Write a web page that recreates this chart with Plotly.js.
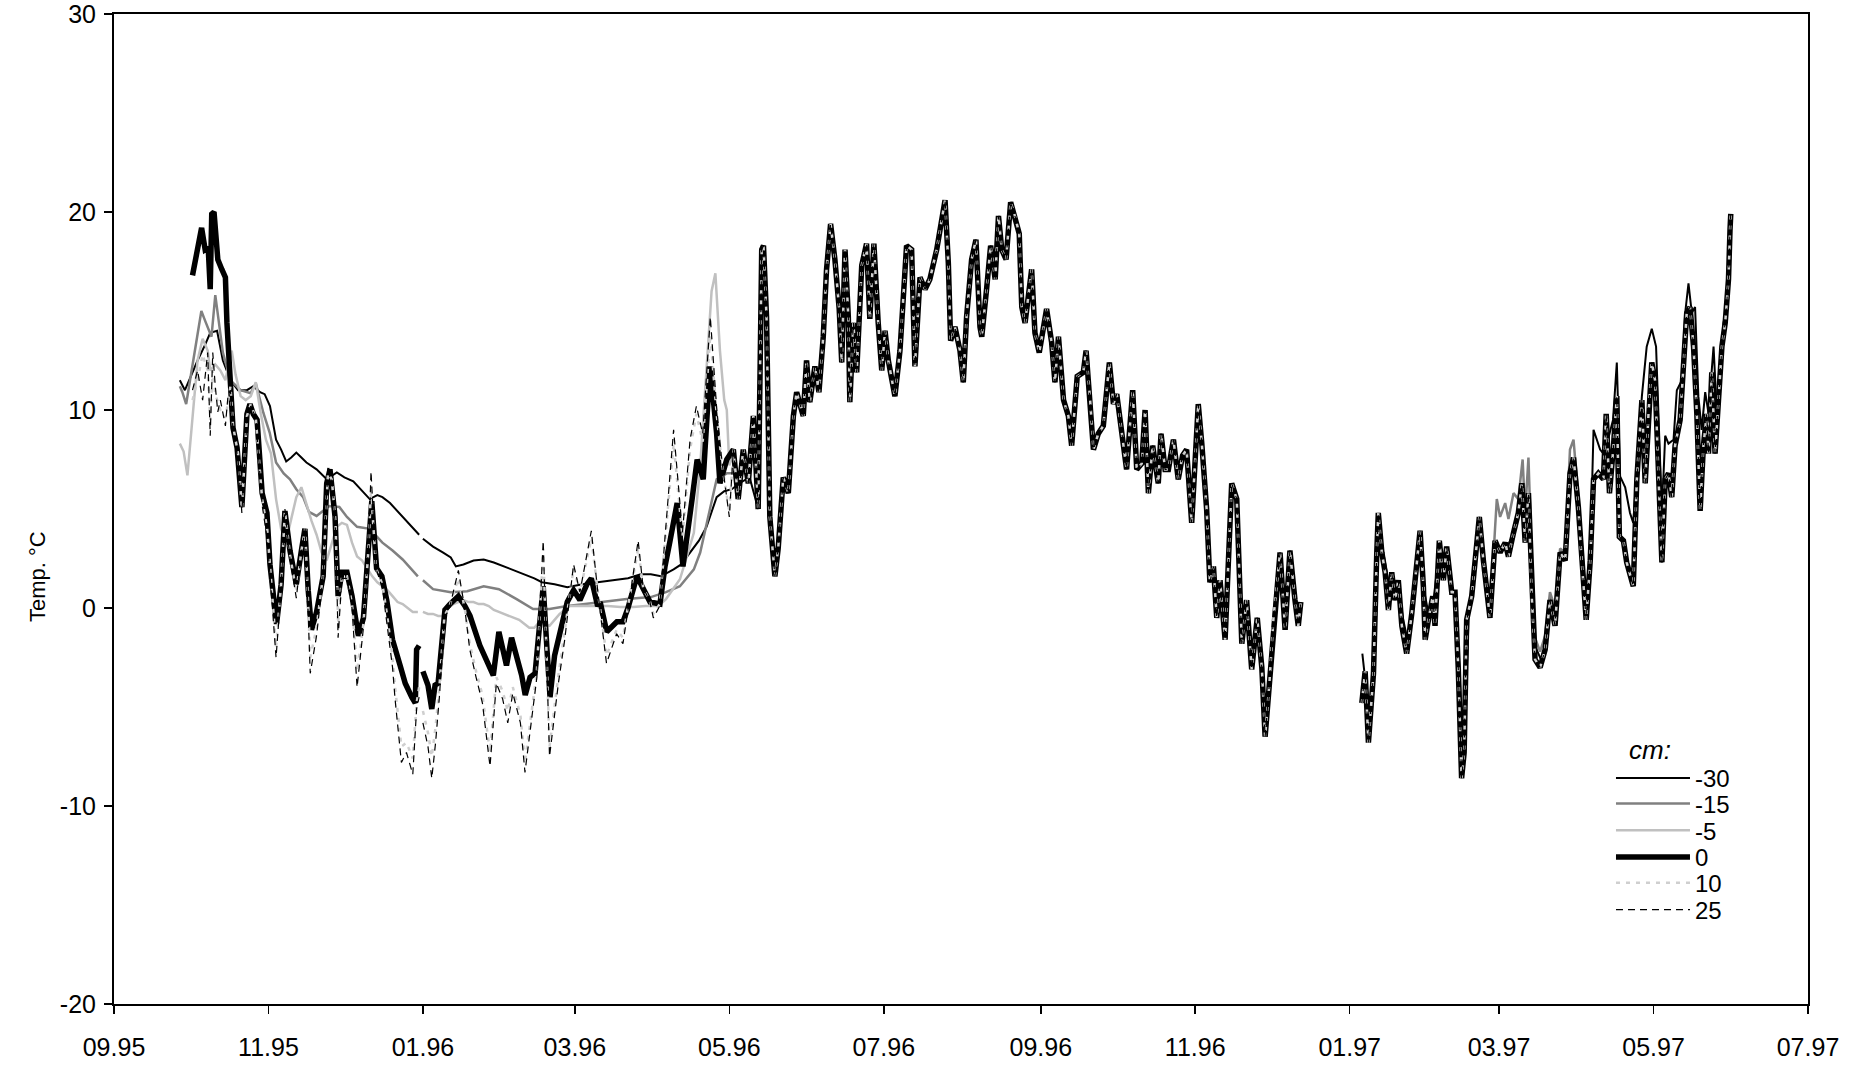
<!DOCTYPE html>
<html>
<head>
<meta charset="utf-8">
<script src="https://cdn.plot.ly/plotly-3.0.1.min.js"></script>
<style>html,body{margin:0;padding:0;background:#fff}#chart{width:1863px;height:1065px}</style>
</head>
<body>
<div id="chart"></div>
<script>
// Day numbers are days since 1995-09-01; values are temperatures in °C.
const BASE_DATE = '1995-09-01';

const yTickVals = [-20, -10, 0, 10, 20, 30];
const yTickText = ['-20', '-10', '0', '10', '20', '30'];
const seriesNames = ['-30', '-15', '-5', '0', '10', '25'];
const yTitle = 'Temp. °C';
const legendTitle = 'cm:';

// ---- winter 1995/96, each depth separately ----
const m30Winter = [[26,11.5],[28,11.0],[30,11.6],[33,12.5],[36,13.3],[38,13.9],[40.7,14.0],[43,12.5],[46,11.5],[49,11.0],[52.5,11.0],[55,11.2],[57.7,10.9],[59.5,10.8],[61.6,10.2],[64,8.5],[66,8.0],[68,7.4],[70,7.6],[72,7.85],[74,7.6],[76,7.35],[80,7.0],[84,6.5],[88,6.85],[91,6.6],[94.5,6.4],[98,5.9],[101,5.5],[104,5.7],[106,5.6],[109,5.3],[114,4.6],[118,4.0],[120.5,3.7],[121,null],[122,3.5],[126,3.1],[130,2.8],[133,2.55],[135,2.1],[138,2.2],[142,2.4],[146,2.45],[150,2.3],[154,2.1],[158,1.9],[162,1.7],[166,1.5],[169,1.3],[174,1.2],[179,1.05],[185,1.2],[191,1.3],[197,1.4],[203,1.5],[208,1.7],[212,1.7],[216,1.6],[219,1.8],[221,1.95],[224,2.2],[227.5,2.8],[231,3.4],[234,4.1],[238,5.6],[241,5.9],[244,6.0],[247,6.3],[251,6.6]];

const m15Winter = [[26,11.2],[27,10.9],[28.5,10.3],[30,11.5],[32,13.0],[34.5,15.0],[36,14.5],[38.5,13.7],[40,15.8],[43,12.9],[46,11.5],[50,11.0],[54,10.85],[56,11.35],[59,9.85],[61.5,8.85],[64,7.35],[67,6.8],[69.5,6.5],[72,6.0],[74.7,5.6],[77,4.85],[80,4.65],[85,5.15],[89,5.1],[92,4.6],[96,4.1],[101,4.0],[106,3.3],[110,2.9],[114,2.45],[120,1.6],[121,null],[122,1.4],[126,0.95],[133,0.8],[139.5,0.85],[146,1.1],[152,0.95],[159,0.45],[165.5,-0.05],[172,-0.05],[179,0.1],[186,0.2],[192,0.3],[202.5,0.45],[212,0.55],[218,0.8],[223.5,1.1],[229,1.95],[231.5,2.8],[235,4.8],[238,6.5],[242,6.8],[246,6.8],[250,6.8]];

const m5Winter = [[26,8.3],[27.5,7.9],[29,6.7],[31,9.8],[33,12.5],[35,13.6],[37,13.0],[38,12.0],[40,12.3],[42,12.0],[44,11.5],[46.5,13.0],[48,11.8],[50,10.7],[52,10.5],[54,10.7],[56,11.4],[58,9.8],[60,8.5],[62,7.8],[64,5.5],[66,4.0],[68,3.4],[70,4.5],[72,5.6],[74,6.1],[76,5.2],[78,4.4],[80,3.7],[82,2.8],[84,2.4],[86,3.3],[88,4.1],[90,4.3],[92,4.2],[94,3.3],[96,2.6],[98,2.4],[100,2.0],[102,1.6],[104,1.3],[106,1.1],[108,0.9],[110,0.6],[112,0.3],[114,0.2],[116,0.0],[118,-0.2],[120,-0.2],[121,null],[122,-0.2],[124,-0.3],[126,-0.3],[128,-0.4],[130,-0.4],[132,0.0],[134,0.2],[136,0.3],[138,0.4],[140,0.3],[142,0.3],[144,0.2],[146,0.2],[148,0.1],[150,-0.1],[152,-0.2],[154,-0.3],[156,-0.4],[158,-0.5],[160,-0.6],[162,-0.8],[164,-1.0],[166,-1.0],[168,-0.7],[170,-0.8],[172,-0.9],[174,-0.6],[176,-0.3],[178,-0.1],[180,0.1],[185,0.1],[190,0.1],[195,0.1],[200,0.05],[205,0.05],[210,0.1],[215,0.1],[218,0.45],[221,1.0],[223.5,1.45],[226,2.5],[229,3.8],[231.5,7.15],[234,12.2],[236,16.0],[237.5,16.9],[239.3,13.0],[241,10.5],[242,10.0],[243,7.2]];

const s0Winter = [[31,16.8],[32.7,17.9],[34.6,19.2],[36,18.1],[37.2,18.2],[38,16.1],[38.6,19.9],[39.5,20.0],[41,17.6],[42.6,17.1],[44,16.7],[44.6,14.4],[46,11.5],[47,9.1],[48.6,8.1],[50.5,5.1],[52.5,9.8],[53.7,10.3],[55,9.8],[56.5,9.5],[58.5,5.8],[60.4,4.8],[61.6,2.2],[64.2,-0.8],[66,1.2],[67.5,4.9],[69.5,2.9],[72,1.2],[74,2.9],[75.4,4.0],[76.7,0.9],[78,-1.1],[80,-0.2],[82.6,1.6],[84,6.3],[85.3,7.0],[87.3,4.6],[88.5,0.6],[90,1.8],[92,1.8],[94,0.6],[96.5,-1.4],[98.5,-0.5],[100.5,2.9],[101.8,5.4],[103.7,2.0],[105.8,1.6],[107.7,0.4],[110,-1.6],[113,-2.9],[115,-3.8],[117.6,-4.5],[119,-4.8],[119.5,-2.1],[120.5,-1.9],[121,null],[122,-3.2],[124,-3.9],[125.5,-5.1],[126.8,-3.9],[128,-3.8],[129.5,-1.4],[130.7,-0.1],[132.7,0.2],[136,0.6],[138.6,0.1],[140.6,-0.4],[144.5,-1.9],[147.2,-2.7],[149.8,-3.4],[152,-1.2],[153.6,-2.1],[155,-2.9],[157,-1.5],[159,-2.4],[161,-3.4],[162.4,-4.4],[164.3,-3.5],[166.3,-3.3],[168.2,-0.4],[169.5,1.1],[171,-2.1],[172.2,-4.5],[174,-2.4],[176,-1.3],[177.5,-0.4],[179,0.3],[181.5,0.9],[184,0.4],[186.8,1.2],[188.5,1.5],[191,0.1],[192,0.3],[194.6,-1.2],[198.6,-0.7],[201,-0.7],[203,0.0],[206.5,1.6],[209,0.9],[211.7,0.3],[215.6,0.2],[217.6,2.1],[219.6,3.4],[222.4,5.3],[224.7,2.1],[226.2,3.4],[228.3,5.5],[230.3,7.5],[232.7,6.5],[235.4,12.2],[238,8.8],[239.3,6.3],[242,7.5]];

const p10Winter = [[31,10.5],[33,11.5],[35,12.8],[37,12.0],[38,9.5],[39,12.0],[40,10.8],[42,10.0],[44,9.6],[46,11.2],[47,9.2],[49,7.8],[50.5,5.0],[52.5,9.7],[54,10.3],[56,9.6],[58.5,5.5],[60.5,4.0],[62,1.5],[64,-2.0],[66,1.2],[67.5,4.9],[69.5,2.7],[72,0.8],[74,2.9],[75.5,4.0],[77.5,-2.5],[80,-1.0],[82.5,1.6],[84.5,6.8],[86,6.5],[87.5,4.3],[88.5,-0.8],[90,1.6],[92,1.6],[94,0.2],[96,-3.2],[98.5,-0.8],[100.5,3.0],[101.5,6.0],[103.5,2.0],[106,1.2],[108,-0.5],[110,-2.5],[111,-4.0],[113.5,-7.0],[115.5,-6.8],[118,-7.6],[119.5,-4.8],[120.5,-4.0],[121,null],[122,-5.2],[124,-6.3],[125.5,-7.5],[127,-6.0],[128.5,-4.0],[130.5,-0.4],[132.5,0.1],[136,1.5],[138.5,0.0],[140.5,-1.8],[143,-3.2],[145.5,-4.4],[148.5,-7.3],[151,-3.5],[153.5,-4.2],[155.5,-5.2],[157.5,-4.0],[160.5,-5.4],[162.3,-7.8],[164.3,-5.8],[167,-3.2],[169.5,3.0],[172,-7.0],[175.5,-3.4],[178,-1.2],[181.5,2.0],[184,0.8],[188.5,3.5],[191,0.9],[194.5,-2.4],[198.5,-1.1],[201,-1.5],[203,0.1],[207,3.0],[209,1.0],[211.5,0.4],[213,-0.3],[215.5,0.2],[217.5,3.2],[221,8.3],[224.5,3.6],[227.5,8.0],[230,9.8],[232.5,8.4],[235.5,13.8],[238,9.8],[240,7.4],[243,4.8]];

const p25Winter = [[31,11.0],[33,12.0],[35,10.5],[37,12.9],[38,8.7],[39,12.9],[40,11.2],[41,9.9],[42,10.5],[44,9.2],[45,10.7],[46,11.0],[47,9.0],[49,7.5],[50.5,4.8],[52.5,9.5],[54,10.2],[56,9.6],[58.5,5.2],[60.5,3.5],[62,1.0],[64,-2.5],[66,1.0],[67.5,5.0],[69.5,2.5],[72,0.5],[74,2.8],[75.5,4.0],[77.5,-3.3],[80,-1.4],[82.5,1.5],[84.5,7.2],[86,6.5],[87.5,4.0],[88.5,-1.5],[90,1.5],[92,1.5],[94,0.0],[96,-4.0],[98.5,-1.0],[100.5,3.0],[101.5,6.9],[103.5,2.0],[106,1.0],[108,-1.0],[110,-3.0],[111,-4.6],[113.5,-7.8],[115.5,-7.3],[118,-8.4],[119.5,-5.1],[120.5,-4.5],[121,null],[122,-5.8],[124,-7.0],[125.5,-8.6],[127,-6.8],[128.5,-4.5],[130.5,-0.5],[132.5,0.0],[136,1.9],[138.5,0.0],[140.5,-2.1],[143,-3.5],[145.5,-4.8],[148.5,-8.0],[151,-3.8],[153.5,-4.6],[155.5,-5.8],[157.5,-4.3],[160.5,-5.8],[162.3,-8.3],[164.3,-6.3],[167,-3.5],[169.5,3.4],[172,-7.5],[175.5,-3.8],[178,-1.6],[181.5,2.2],[184,0.8],[188.5,3.9],[191,0.9],[194.5,-2.8],[198.5,-1.3],[201,-1.8],[203,0.0],[207,3.4],[209,1.0],[211.5,0.4],[213,-0.5],[215.5,0.1],[217.5,3.4],[221,9.0],[224.5,3.8],[227.5,8.5],[230,10.2],[232.5,8.8],[235.5,14.7],[238,10.1],[240,7.5],[243,4.6]];

// ---- May–Dec 1996: all depths nearly identical ----
const common96 = [[244.6,8.0],[246.5,5.5],[248.5,8.0],[250.5,6.3],[252.5,9.7],[254.4,5.0],[255.8,18.1],[256.5,18.3],[257.7,14.7],[259,4.6],[261,1.6],[262.3,3.0],[264.3,6.6],[266.3,5.8],[268.3,9.7],[269.6,10.9],[272.2,9.7],[273.5,12.5],[274.8,10.4],[276.8,12.2],[278.4,10.9],[280.1,13.7],[281.4,17.1],[283,19.4],[284.7,17.6],[286.4,15.1],[287.4,12.4],[288.7,18.1],[290,14.7],[290.6,10.4],[292,14.4],[293.3,11.9],[295.3,17.3],[297.2,18.4],[298.5,14.6],[300.1,18.4],[301.8,14.4],[303.2,12.0],[304.5,14.0],[305.8,12.5],[308.4,10.7],[310.4,13.0],[313,18.3],[315,18.1],[316.3,12.2],[318.3,16.7],[320.3,16.1],[322.2,16.6],[324.9,18.1],[328.2,20.6],[329.5,17.4],[330.4,13.5],[332.1,14.2],[334.1,13.0],[335.4,11.4],[336.7,14.7],[338.7,17.6],[340.4,18.6],[342,14.2],[342.7,13.7],[344.6,16.1],[346.2,18.3],[348,16.6],[349.3,19.8],[350.6,18.1],[352.3,17.6],[354.1,20.5],[355.8,19.8],[357.5,18.9],[358.5,15.2],[359.8,14.4],[362.4,17.1],[363.7,13.9],[365.4,12.9],[368.3,15.1],[370.3,13.4],[371.6,11.4],[373,13.7],[375,10.5],[376.9,9.7],[378.2,8.2],[380.4,11.7],[382.8,11.9],[383.9,13.0],[385.5,10.5],[386.8,8.0],[388.7,8.8],[390.7,9.2],[393.1,12.4],[394.7,10.3],[396,10.8],[398,8.8],[399.9,7.0],[402.3,11.0],[403.9,7.0],[405.9,7.3],[407.2,10.0],[408.5,5.8],[410.2,8.2],[412.4,6.3],[413.5,8.8],[415.1,7.0],[416.4,7.0],[418.4,8.5],[420.3,6.5],[422,7.7],[423.6,8.0],[425.6,4.3],[426.9,7.2],[428.2,10.3],[429.6,8.3],[431.5,5.0],[432.8,1.3],[434.2,2.1],[435.5,-0.5],[436.8,1.4],[438.8,-1.6],[441.4,6.3],[443.4,5.5],[445.4,-1.8],[447.3,0.4],[449.3,-3.1],[451.5,-0.5],[453.3,-3.0],[454.6,-6.5],[456.3,-3.8],[457.9,-0.5],[460.5,2.8],[462.5,-1.1],[464.4,2.9],[466.4,0.4],[467.7,-0.9],[468.7,0.3]];

// data gap (mid-December 1996 to early January 1997)
const gapMark = [[480,null]];

// ---- 1997 ----
const common97a = [[492.8,-4.8],[494.1,-3.2],[495.4,-6.8],[497.4,-3.3],[498.7,2.8],[499.3,4.8],[500.7,2.8],[502,1.8],[503.3,-0.1],[504.6,1.8],[505.9,0.4],[507.2,1.4],[508.6,-0.9],[510.5,-2.3],[512.5,-0.3],[514.5,2.3],[515.8,3.9],[517.1,1.1],[517.8,-1.6],[519.1,-0.6],[520.8,0.6],[521.7,-0.9],[523.4,3.4],[525,1.4],[526.3,3.1],[528.3,0.8],[529.6,0.8],[530.9,-3.1],[532.2,-8.6],[533.2,-7.3],[534.2,-0.6],[536.2,0.6],[537.5,2.3],[539.2,4.6],[540.8,2.4],[543.4,-0.5]];
const common97b = [[545.4,3.4],[547.4,2.8],[549.4,3.3],[550.7,2.6],[552.7,3.8],[554.6,4.8],[556,6.3],[557.3,3.3],[558.6,5.8],[559.9,0.6],[561.2,-2.6],[563.2,-3.0],[565.2,-2.1],[567.1,0.4],[569.1,-0.9],[571.1,2.8],[573.1,2.4],[575,6.8],[576.4,7.6],[578.3,5.1],[579.6,2.4]];
const common97c = [[581.4,-0.6],[583,2.4],[584.3,6.5],[586.2,6.8],[588.2,6.5],[589.3,9.8],[590.6,5.8],[592.2,8.2],[593.5,10.7],[594.5,3.6],[596.1,3.4],[597.4,2.3],[600,1.1],[601.4,6.5],[603.4,10.5],[604.7,6.3],[606,9.8],[607.3,12.4],[608.6,11.5],[610,6.5],[611.3,2.3],[612.6,6.5],[613.9,6.8],[615.2,5.6],[616.5,8.2],[618.5,9.5],[619.8,12.4],[621.1,14.9],[622.4,15.2],[623.8,13.2],[625.1,9.8],[626.4,4.9],[627.7,8.2],[629,9.8],[629.7,7.8],[631,11.9],[632.3,7.8],[633.6,10.7],[635,13.2],[636.3,14.4],[637.6,16.6],[638.2,19.1],[638.5,19.9]];
const m15Spring97 = [[545.4,4.0],[546.1,5.5],[547.4,4.6],[549.4,5.3],[550.7,4.5],[552.7,5.8],[554.6,5.5],[556.3,7.5],[557.3,4.8],[558.6,7.6],[559.9,2.5],[561.2,-1.5],[563.2,-2.2],[565.2,-1.4],[567.1,0.8],[569.1,0.0],[571.1,3.0],[573.1,2.8],[575,8.0],[576.4,8.5],[578.3,5.6],[579.6,3.0]];
const m30Year97 = [[493,-2.3],[494.5,-4.0],[496,-5.8],[497.5,-3.0],[499,2.5],[500,4.0],[501,3.0],[502.5,1.9],[504,0.8],[505.5,1.2],[507,1.3],[509,-0.5],[511,-1.7],[513,0.2],[515,2.8],[516,3.6],[517.5,0.8],[519,-0.2],[521,0.3],[523.5,3.0],[525,1.8],[526.5,2.8],[528.5,1.0],[530,0.5],[531.5,-3.5],[532.5,-7.8],[533.5,-6.0],[535,-0.3],[537.5,2.2],[539.5,4.3],[541,2.6],[543.5,0.0],[545.5,3.2],[547.5,2.9],[550,3.0],[553,3.9],[555,4.8],[556.5,5.8],[558.5,5.5],[560,1.2],[561.5,-2.0],[563.5,-2.6],[565.5,-1.8],[567,0.5],[569,-0.4],[571,2.7],[573,2.6],[575,6.5],[576.5,7.4],[578.5,5.3],[580,2.8],[581.5,0.0],[583,2.6],[584.3,9.0],[586.9,8.0],[588.2,7.8],[590,8.5],[592,9.5],[593.5,12.4],[594.8,6.65],[596.8,6.1],[598.7,4.8],[600,4.3],[602,8.2],[603.4,10.7],[605.3,13.2],[607.3,14.1],[609,13.2],[610,9.85],[611.3,4.8],[612.6,8.7],[613.9,8.3],[615.9,8.5],[617.2,11.0],[619.2,11.5],[620.5,14.9],[621.8,16.4],[623.1,14.9],[624.4,15.2],[625.7,10.7],[627,9.0],[628.4,10.9],[629.7,9.85],[631.7,13.2],[633,9.85],[634.3,11.5],[635.6,14.4],[636.6,15.0],[637.6,16.6],[638.2,19.1],[638.5,19.9]];

// ---- assemble ----
const baseMs = Date.parse(BASE_DATE + 'T00:00:00Z');
function toXY(pairs) {
  return {
    x: pairs.map(p => new Date(baseMs + p[0] * 86400000).toISOString().slice(0, 19).replace('T', ' ')),
    y: pairs.map(p => p[1])
  };
}
const from = (arr, d) => arr.filter(p => p[0] >= d);

const seriesPairs = [
  m30Winter.concat(from(common96, 254), gapMark, m30Year97),
  m15Winter.concat(from(common96, 252), gapMark, common97a, m15Spring97, common97c),
  m5Winter.concat(common96, gapMark, common97a, common97b, common97c),
  s0Winter.concat(common96, gapMark, common97a, common97b, common97c),
  p10Winter.concat(common96, gapMark, common97a, common97b, common97c),
  p25Winter.concat(common96, gapMark, common97a, common97b, common97c)
];

const styles = [
  {color: '#000000', width: 2},
  {color: '#808080', width: 2.5},
  {color: '#c0c0c0', width: 2.5},
  {color: '#000000', width: 5.5},
  {color: '#cfcfcf', width: 2.5, dash: '4px,6px'},
  {color: '#000000', width: 1.2, dash: '7px,5px'}
];

// one legend box per entry so the entries can sit as tightly as in the original
const legendIds = ['legend', 'legend2', 'legend3', 'legend4', 'legend5', 'legend6'];

const traces = seriesPairs.map((pairs, i) => {
  const xy = toXY(pairs);
  return {
    type: 'scatter', mode: 'lines', name: seriesNames[i],
    x: xy.x, y: xy.y, connectgaps: false,
    line: Object.assign({shape: 'linear'}, styles[i]),
    legend: legendIds[i],
    hoverinfo: 'x+y+name'
  };
});

const FONT = 'Arial, "Liberation Sans", sans-serif';
const layout = {
  width: 1863, height: 1065,
  margin: {l: 114, r: 55, t: 14, b: 61, pad: 0},
  paper_bgcolor: '#ffffff', plot_bgcolor: '#ffffff',
  font: {family: FONT, size: 25, color: '#000'},
  showlegend: true,
  xaxis: {
    type: 'date', range: ['1995-09-01', '1997-07-01'],
    tick0: '1995-09-01', dtick: 'M2', tickformat: '%m.%y',
    ticks: 'outside', ticklen: 8, tickwidth: 1.5, tickcolor: '#000',
    showline: true, linecolor: '#000', linewidth: 2, mirror: true,
    showgrid: false, zeroline: false,
    tickfont: {family: FONT, size: 25, color: '#000'},
    ticklabelstandoff: 12, ticklabeloverflow: 'allow'
  },
  yaxis: {
    range: [-20, 30], tickmode: 'array', tickvals: yTickVals, ticktext: yTickText,
    ticks: 'outside', ticklen: 8, tickwidth: 1.5, tickcolor: '#000',
    showline: true, linecolor: '#000', linewidth: 2, mirror: true,
    showgrid: false, zeroline: false,
    tickfont: {family: FONT, size: 25, color: '#000'},
    ticklabelstandoff: 3, ticklabeloverflow: 'allow'
  },
  annotations: [
    {
      text: yTitle, xref: 'paper', yref: 'paper', x: -0.045, y: 0.432,
      xanchor: 'center', yanchor: 'middle', textangle: -90, showarrow: false,
      font: {family: FONT, size: 22, color: '#000'}
    },
    {
      text: '<i>' + legendTitle + '</i>', xref: 'paper', yref: 'paper', x: 0.9065, y: 0.2566,
      xanchor: 'center', yanchor: 'middle', showarrow: false,
      font: {family: FONT, size: 26, color: '#000'}
    }
  ]
};

const legendYs = [0.228, 0.202, 0.175, 0.148, 0.122, 0.095];
legendIds.forEach((id, i) => {
  layout[id] = {
    x: 0.8837, y: legendYs[i], xanchor: 'left', yanchor: 'middle',
    bgcolor: 'rgba(0,0,0,0)', borderwidth: 0,
    font: {family: FONT, size: 24, color: '#000'},
    itemwidth: 74, tracegroupgap: 0
  };
});

Plotly.newPlot('chart', traces, layout, {displayModeBar: false, staticPlot: true});
</script>
</body>
</html>
